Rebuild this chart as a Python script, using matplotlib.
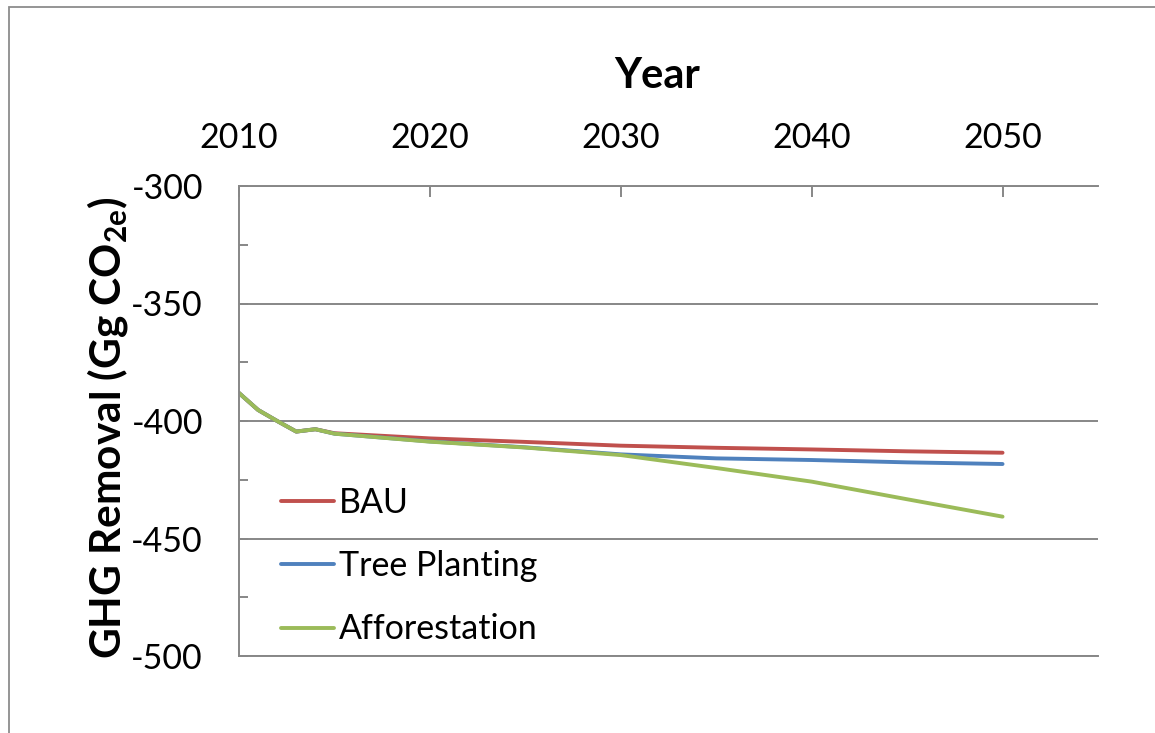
import numpy as np
import matplotlib
matplotlib.use("Agg")
import matplotlib.pyplot as plt
from matplotlib.patches import Rectangle
from matplotlib.ticker import MultipleLocator

plt.rcParams['font.family'] = ['Lato', 'DejaVu Sans']
plt.rcParams['mathtext.fontset'] = 'custom'
plt.rcParams['mathtext.rm'] = 'Lato'
plt.rcParams['mathtext.bf'] = 'Lato:bold'
plt.rcParams['axes.unicode_minus'] = False

# GHG removal projections (Gg CO2e)
years = [2010, 2011, 2012, 2013, 2014, 2015, 2020, 2025, 2030, 2035, 2040, 2045, 2050]
bau = [-388.1, -395.3, -400.0, -404.5, -403.5, -405.2, -407.4, -408.9, -410.5, -411.4, -412.1, -412.9, -413.5]
tree_planting = [-388.1, -395.3, -400.0, -404.5, -403.5, -405.4, -408.7, -411.2, -414.2, -415.9, -416.6, -417.6, -418.3]
afforestation = [-388.1, -395.3, -400.0, -404.5, -403.5, -405.4, -408.8, -411.3, -414.5, -420.0, -425.8, -433.3, -440.7]

series = [("BAU", bau, "#C0504D"),
          ("Tree Planting", tree_planting, "#4F81BD"),
          ("Afforestation", afforestation, "#9BBB59")]

W, H = 1155, 733
fig = plt.figure(figsize=(W / 100, H / 100), dpi=100)
ax = fig.add_axes([239 / W, 1 - 656 / H, (1098 - 239) / W, (656 - 186) / H])

grey = "#878787"
for name, vals, col in series:
    ax.plot(years, vals, color=col, lw=2.8, label=name, solid_capstyle='round')

ax.set_xlim(2010, 2055)
ax.set_ylim(-500, -300)
ax.xaxis.tick_top()
ax.set_xticks([2010, 2020, 2030, 2040, 2050])
ax.yaxis.set_major_locator(MultipleLocator(50))
ax.yaxis.set_minor_locator(MultipleLocator(25))
ax.tick_params(axis='x', which='both', direction='in', length=8, width=1.4,
               color=grey, labelsize=24.5, pad=23)
ax.tick_params(axis='y', which='both', direction='in', length=6.5, width=1.4,
               color=grey, labelsize=24.5, pad=26)
ax.grid(axis='y', which='major', color=grey, lw=1.4)
ax.spines['right'].set_visible(False)
for s in ('left', 'top', 'bottom'):
    ax.spines[s].set_color(grey)
    ax.spines[s].set_linewidth(1.4)

fig.text(657 / W, 1 - 76 / H, "Year", ha='center', va='center',
         fontsize=30, fontweight='bold')
fig.text(108 / W, 1 - 428 / H, r"GHG Removal (Gg CO$_{\mathbf{2e}}$)",
         ha='center', va='center', rotation=90, fontsize=30.5, fontweight='bold')

ax.legend(loc='upper left', bbox_to_anchor=(0.049, 0.36), frameon=False,
          fontsize=24.5, handlelength=1.55, handletextpad=0.15, labelspacing=0.92,
          borderpad=0, borderaxespad=0)

# outer chart border
fig.patches.append(Rectangle((9 / W, -0.1), 1.2, 1 - 7 / H + 0.1,
                             transform=fig.transFigure, fill=False,
                             edgecolor="#8c8c8c", lw=1.3))

fig.savefig("out.png", dpi=100)
